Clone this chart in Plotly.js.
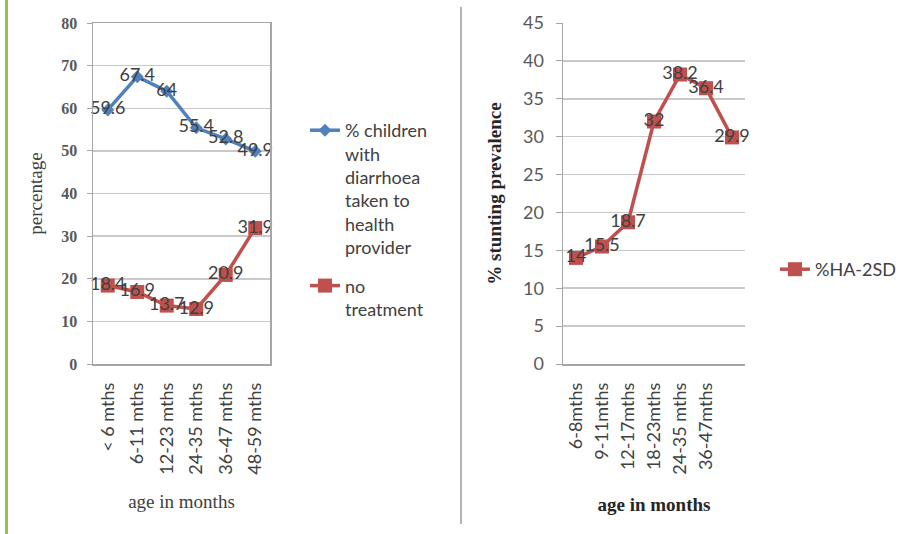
<!DOCTYPE html>
<html>
<head>
<meta charset="utf-8">
<script src="https://cdn.plot.ly/plotly-3.0.1.min.js"></script>
<style>
  html, body { margin: 0; padding: 0; background: #ffffff; }
  #chart { width: 907px; height: 534px; }
</style>
</head>
<body>
<div id="chart"></div>
<script>
// ---- Data: left chart (diarrhoea treatment) ----
const leftCategories = ["< 6 mths", "6-11 mths", "12-23 mths", "24-35 mths", "36-47 mths", "48-59 mths"];
const healthProvider = [59.6, 67.4, 64, 55.4, 52.8, 49.9];
const noTreatment = [18.4, 16.9, 13.7, 12.9, 20.9, 31.9];
const leftSeriesNames = ["% children<br>with<br>diarrhoea<br>taken to<br>health<br>provider", "no<br>treatment"];

// ---- Data: right chart (stunting) ----
const rightCategories = ["6-8mths", "9-11mths", "12-17mths", "18-23mths", "24-35 mths", "36-47mths", ""];
const stunting = [14, 15.5, 18.7, 32, 38.2, 36.4, 29.9];
const rightSeriesName = "%HA-2SD";

const W = 907, H = 534;
const px = v => v / W;
const py = v => 1 - v / H;

const blue = "#4f81bd";
const red = "#c0504d";
const labelFont = { family: "Lato, 'Open Sans', sans-serif", size: 18, color: "#404040" };

const idx = arr => arr.map((_, i) => i);
const fmt = arr => arr.map(v => String(v));

const traces = [
  {
    x: idx(leftCategories), y: healthProvider, xaxis: "x", yaxis: "y",
    name: leftSeriesNames[0], legend: "legend", legendgroup: "a",
    mode: "lines+markers+text", text: fmt(healthProvider), textposition: "middle center",
    textfont: labelFont,
    line: { color: blue, width: 3.5 },
    marker: { symbol: "diamond", size: 10, color: blue },
    cliponaxis: false
  },
  {
    x: idx(leftCategories), y: noTreatment, xaxis: "x", yaxis: "y",
    name: leftSeriesNames[1], legend: "legend", legendgroup: "b",
    mode: "lines+markers+text", text: fmt(noTreatment), textposition: "middle center",
    textfont: labelFont,
    line: { color: red, width: 3.5 },
    marker: { symbol: "square", size: 14, color: red },
    cliponaxis: false
  },
  {
    x: idx(rightCategories), y: stunting, xaxis: "x2", yaxis: "y2",
    name: rightSeriesName, legend: "legend2",
    mode: "lines+markers+text", text: fmt(stunting), textposition: "middle center",
    textfont: labelFont,
    line: { color: red, width: 3.5 },
    marker: { symbol: "square", size: 14, color: red },
    cliponaxis: false
  }
];

const gridColor = "#c9c9c9";
const axisColor = "#a6a6a6";

const layout = {
  width: W, height: H,
  margin: { l: 0, r: 0, t: 0, b: 0 },
  paper_bgcolor: "#ffffff",
  plot_bgcolor: "#ffffff",
  showlegend: true,
  xaxis: {
    domain: [px(93), px(270)],
    range: [-0.5, leftCategories.length - 0.5],
    tickvals: idx(leftCategories), ticktext: leftCategories,
    tickangle: -90,
    tickfont: { family: "Lato, 'Open Sans', sans-serif", size: 18, color: "#404040" },
    showgrid: false, zeroline: false,
    showline: true, linecolor: axisColor, linewidth: 1.5, mirror: true,
    ticks: "", ticklabelstandoff: 10,
    automargin: false,
    title: { text: "age in months", standoff: 21,
      font: { family: "'Liberation Serif', 'Times New Roman', serif", size: 19, color: "#404040" } },
    anchor: "y"
  },
  yaxis: {
    domain: [py(364), py(23)],
    range: [0, 80], dtick: 10,
    tickfont: { family: "'Liberation Serif', 'Times New Roman', serif", size: 16, color: "#595959", weight: "bold" },
    showgrid: true, gridcolor: gridColor, gridwidth: 1.5,
    zeroline: false,
    showline: true, linecolor: axisColor, linewidth: 1.5, mirror: true,
    ticks: "outside", ticklen: 5, tickcolor: axisColor, ticklabelstandoff: 6,
    automargin: false,
    title: { text: "percentage", standoff: 13,
      font: { family: "'Liberation Serif', 'Times New Roman', serif", size: 19, color: "#404040" } },
    anchor: "x"
  },
  xaxis2: {
    domain: [px(563), px(745)],
    range: [-0.5, rightCategories.length - 0.5],
    tickvals: idx(rightCategories).slice(0, 6), ticktext: rightCategories.slice(0, 6),
    tickangle: -90,
    tickfont: { family: "Lato, 'Open Sans', sans-serif", size: 18, color: "#404040" },
    showgrid: false, zeroline: false,
    showline: true, linecolor: axisColor, linewidth: 1.5,
    ticks: "", ticklabelstandoff: 10,
    automargin: false,
    title: { text: "age in months", standoff: 24,
      font: { family: "'Liberation Serif', 'Times New Roman', serif", size: 19, color: "#262626", weight: "bold" } },
    anchor: "y2"
  },
  yaxis2: {
    domain: [py(364), py(23)],
    range: [0, 45], dtick: 5,
    tickfont: { family: "Lato, 'Open Sans', sans-serif", size: 18, color: "#595959" },
    showgrid: true, gridcolor: gridColor, gridwidth: 1.5,
    zeroline: false,
    showline: true, linecolor: axisColor, linewidth: 1.5,
    ticks: "outside", ticklen: 6, tickcolor: axisColor, ticklabelstandoff: 8,
    automargin: false,
    title: { text: "% stunting prevalence", standoff: 16,
      font: { family: "'Liberation Serif', 'Times New Roman', serif", size: 19, color: "#262626", weight: "bold" } },
    anchor: "x2"
  },
  legend: {
    x: px(305), y: py(112), xanchor: "left", yanchor: "top",
    font: { family: "Lato, 'Open Sans', sans-serif", size: 18, color: "#404040" },
    valign: "top", traceorder: "grouped", tracegroupgap: 12,
    bgcolor: "rgba(0,0,0,0)", borderwidth: 0
  },
  legend2: {
    x: px(775), y: py(251), xanchor: "left", yanchor: "top",
    font: { family: "Lato, 'Open Sans', sans-serif", size: 18, color: "#404040" },
    bgcolor: "rgba(0,0,0,0)", borderwidth: 0
  },
  shapes: [
    { type: "line", xref: "paper", yref: "paper", x0: px(6.5), x1: px(6.5), y0: 0, y1: 1,
      line: { color: "#8dc63f", width: 3 } },
    { type: "line", xref: "paper", yref: "paper", x0: px(461), x1: px(461), y0: py(524), y1: py(7),
      line: { color: "#b3b3b3", width: 2 } }
  ]
};

Plotly.newPlot("chart", traces, layout, { displayModeBar: false, staticPlot: true });
</script>
</body>
</html>
